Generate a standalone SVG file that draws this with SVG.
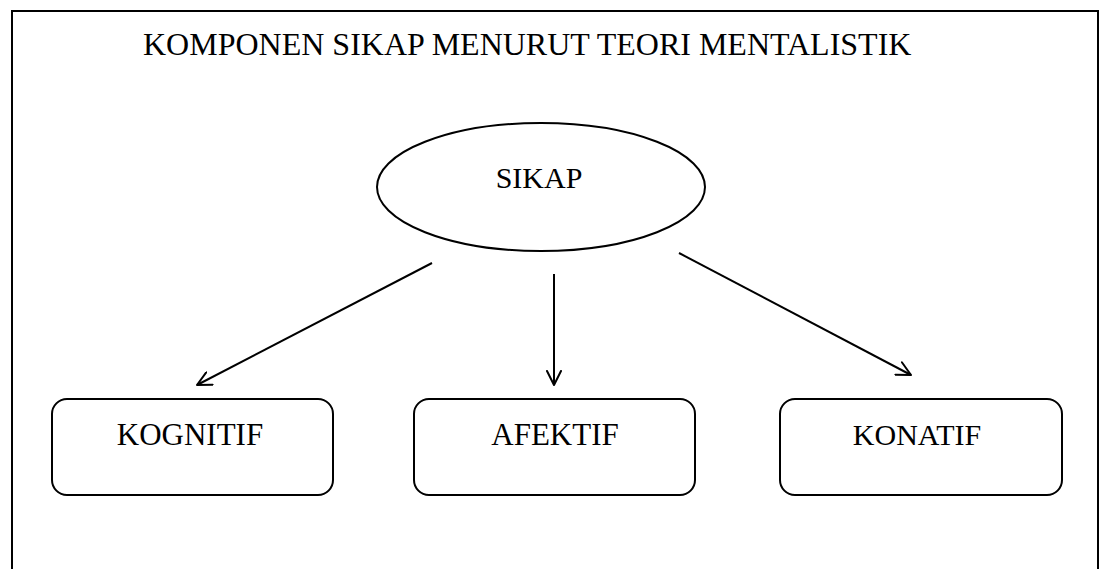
<svg xmlns="http://www.w3.org/2000/svg" width="1100" height="569" viewBox="0 0 1100 569">
  <style>
    .t { font-family: "Liberation Serif", "Times New Roman", serif; fill: #000; }
    .node { fill: #fff; stroke: #000; stroke-width: 2; }
    .edge { stroke: #000; stroke-width: 2; fill: none; }
  </style>
  <defs>
    <marker id="arr" viewBox="0 0 16 16" refX="15" refY="8" markerWidth="16" markerHeight="16" markerUnits="userSpaceOnUse" orient="auto">
      <path d="M1,1 L15,8 L1,15" fill="none" stroke="#000" stroke-width="2" stroke-linecap="round" stroke-linejoin="round"/>
    </marker>
  </defs>
  <rect width="1100" height="569" fill="#fff"/>
  <path d="M12,569 V11 H1098 V569" fill="none" stroke="#000" stroke-width="2"/>
  <text class="t" x="143" y="55" font-size="32">KOMPONEN SIKAP MENURUT TEORI MENTALISTIK</text>
  <g id="sikap">
    <ellipse class="node" cx="541" cy="187" rx="164" ry="64"/>
    <text class="t" x="539" y="188" font-size="30" text-anchor="middle">SIKAP</text>
  </g>
  <g id="kognitif">
    <rect class="node" x="52" y="399" width="281" height="96" rx="15"/>
    <text class="t" x="190" y="445" font-size="31" text-anchor="middle">KOGNITIF</text>
  </g>
  <g id="afektif">
    <rect class="node" x="414" y="399" width="281" height="96" rx="15"/>
    <text class="t" x="555" y="445" font-size="31" text-anchor="middle">AFEKTIF</text>
  </g>
  <g id="konatif">
    <rect class="node" x="780" y="399" width="282" height="96" rx="15"/>
    <text class="t" x="917" y="445" font-size="30" text-anchor="middle">KONATIF</text>
  </g>
  <g id="connectors">
    <line class="edge" x1="432" y1="263" x2="197" y2="385" marker-end="url(#arr)"/>
    <line class="edge" x1="554" y1="274" x2="554" y2="385" marker-end="url(#arr)"/>
    <line class="edge" x1="679" y1="253" x2="911" y2="375" marker-end="url(#arr)"/>
  </g>
</svg>
